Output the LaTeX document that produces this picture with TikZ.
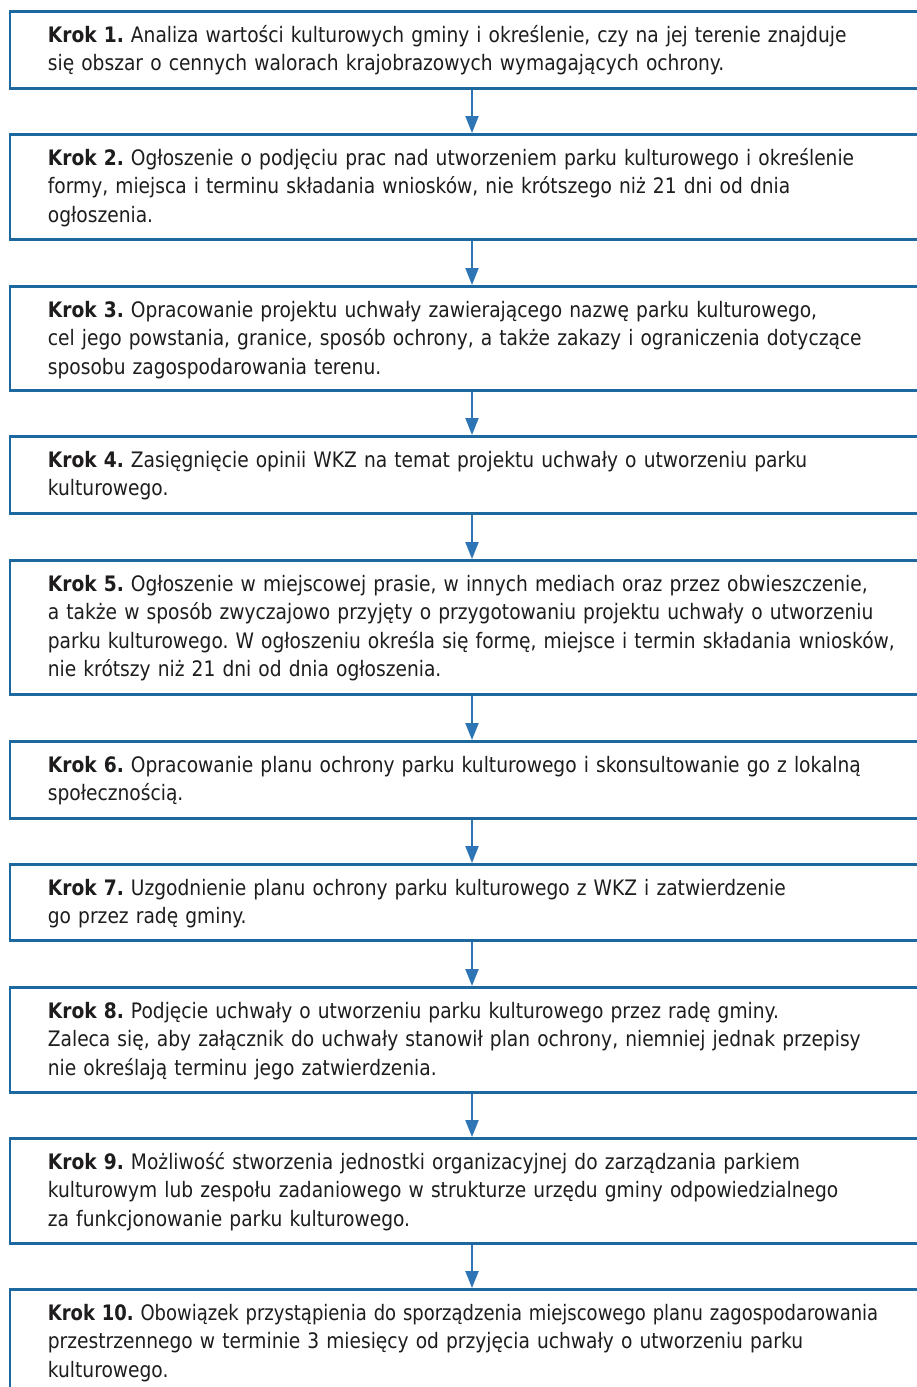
\documentclass[tikz,border=0pt]{standalone}
\usepackage{graphicx}
\usepackage{fontspec}
\setmainfont{DejaVu Sans}[FakeStretch=0.875]
\usetikzlibrary{arrows.meta,calc}
\definecolor{boxblue}{HTML}{1E68A0}
\definecolor{arrblue}{HTML}{2E75B6}
\definecolor{txtcol}{HTML}{1E1C1C}
\tikzset{
  stepbox/.style={draw=boxblue, line width=2.6pt, fill=white, minimum width=924pt, inner sep=0pt, anchor=north, rectangle},
  steptext/.style={anchor=north west, inner sep=0pt, text width=880pt, align=left, text=txtcol,
     font=\fontsize{21.3pt}{28.5pt}\selectfont\frenchspacing},
  flowarrow/.style={draw=arrblue, line width=2.2pt, -{Triangle[width=13pt,length=17pt]}}
}
\newcommand{\fst}{\rule{0pt}{20pt}}
\begin{document}
\begin{tikzpicture}[x=1pt,y=-1pt]
\useasboundingbox (0,0) rectangle (917,1387);
\node[stepbox, minimum height=77pt] (b1) at (472,10) {};
\node[stepbox, minimum height=105pt] (b2) at (472,133) {};
\node[stepbox, minimum height=104pt] (b3) at (472,285) {};
\node[stepbox, minimum height=77pt] (b4) at (472,435) {};
\node[stepbox, minimum height=134pt] (b5) at (472,559) {};
\node[stepbox, minimum height=77pt] (b6) at (472,740) {};
\node[stepbox, minimum height=76pt] (b7) at (472,863) {};
\node[stepbox, minimum height=105pt] (b8) at (472,986) {};
\node[stepbox, minimum height=105pt] (b9) at (472,1137) {};
\node[stepbox, minimum height=200pt] (b10) at (472,1288) {};

\node[steptext] (t1) at ($(b1.north west)+(39,12)$) {\fst\textbf{Krok 1.} Analiza wartości kulturowych gminy i określenie, czy na jej terenie znajduje\\ się obszar o cennych walorach krajobrazowych wymagających ochrony.};
\node[steptext] (t2) at ($(b2.north west)+(39,12)$) {\fst\textbf{Krok 2.} Ogłoszenie o podjęciu prac nad utworzeniem parku kulturowego i określenie\\ formy, miejsca i terminu składania wniosków, nie krótszego niż 21 dni od dnia\\ ogłoszenia.};
\node[steptext] (t3) at ($(b3.north west)+(39,12)$) {\fst\textbf{Krok 3.} Opracowanie projektu uchwały zawierającego nazwę parku kulturowego,\\ cel jego powstania, granice, sposób ochrony, a także zakazy i ograniczenia dotyczące\\ sposobu zagospodarowania terenu.};
\node[steptext] (t4) at ($(b4.north west)+(39,12)$) {\fst\textbf{Krok 4.} Zasięgnięcie opinii WKZ na temat projektu uchwały o utworzeniu parku\\ kulturowego.};
\node[steptext] (t5) at ($(b5.north west)+(39,12)$) {\fst\textbf{Krok 5.} Ogłoszenie w miejscowej prasie, w innych mediach oraz przez obwieszczenie,\\ a także w sposób zwyczajowo przyjęty o przygotowaniu projektu uchwały o utworzeniu\\ parku kulturowego. W ogłoszeniu określa się formę, miejsce i termin składania wniosków,\\ nie krótszy niż 21 dni od dnia ogłoszenia.};
\node[steptext] (t6) at ($(b6.north west)+(39,12)$) {\fst\textbf{Krok 6.} Opracowanie planu ochrony parku kulturowego i skonsultowanie go z lokalną\\ społecznością.};
\node[steptext] (t7) at ($(b7.north west)+(39,12)$) {\fst\textbf{Krok 7.} Uzgodnienie planu ochrony parku kulturowego z WKZ i zatwierdzenie\\ go przez radę gminy.};
\node[steptext] (t8) at ($(b8.north west)+(39,12)$) {\fst\textbf{Krok 8.} Podjęcie uchwały o utworzeniu parku kulturowego przez radę gminy.\\ Zaleca się, aby załącznik do uchwały stanowił plan ochrony, niemniej jednak przepisy\\ nie określają terminu jego zatwierdzenia.};
\node[steptext] (t9) at ($(b9.north west)+(39,12)$) {\fst\textbf{Krok 9.} Możliwość stworzenia jednostki organizacyjnej do zarządzania parkiem\\ kulturowym lub zespołu zadaniowego w strukturze urzędu gminy odpowiedzialnego\\ za funkcjonowanie parku kulturowego.};
\node[steptext] (t10) at ($(b10.north west)+(39,12)$) {\fst\scalebox{0.965}[1]{\textbf{Krok 10.} Obowiązek przystąpienia do sporządzenia miejscowego planu zagospodarowania}\\ przestrzennego w terminie 3 miesięcy od przyjęcia uchwały o utworzeniu parku\\ kulturowego.};

\foreach \a/\b in {b1/b2,b2/b3,b3/b4,b4/b5,b5/b6,b6/b7,b7/b8,b8/b9,b9/b10}{
  \draw[flowarrow] (\a.south) -- (\b.north);
}
\end{tikzpicture}
\end{document}
